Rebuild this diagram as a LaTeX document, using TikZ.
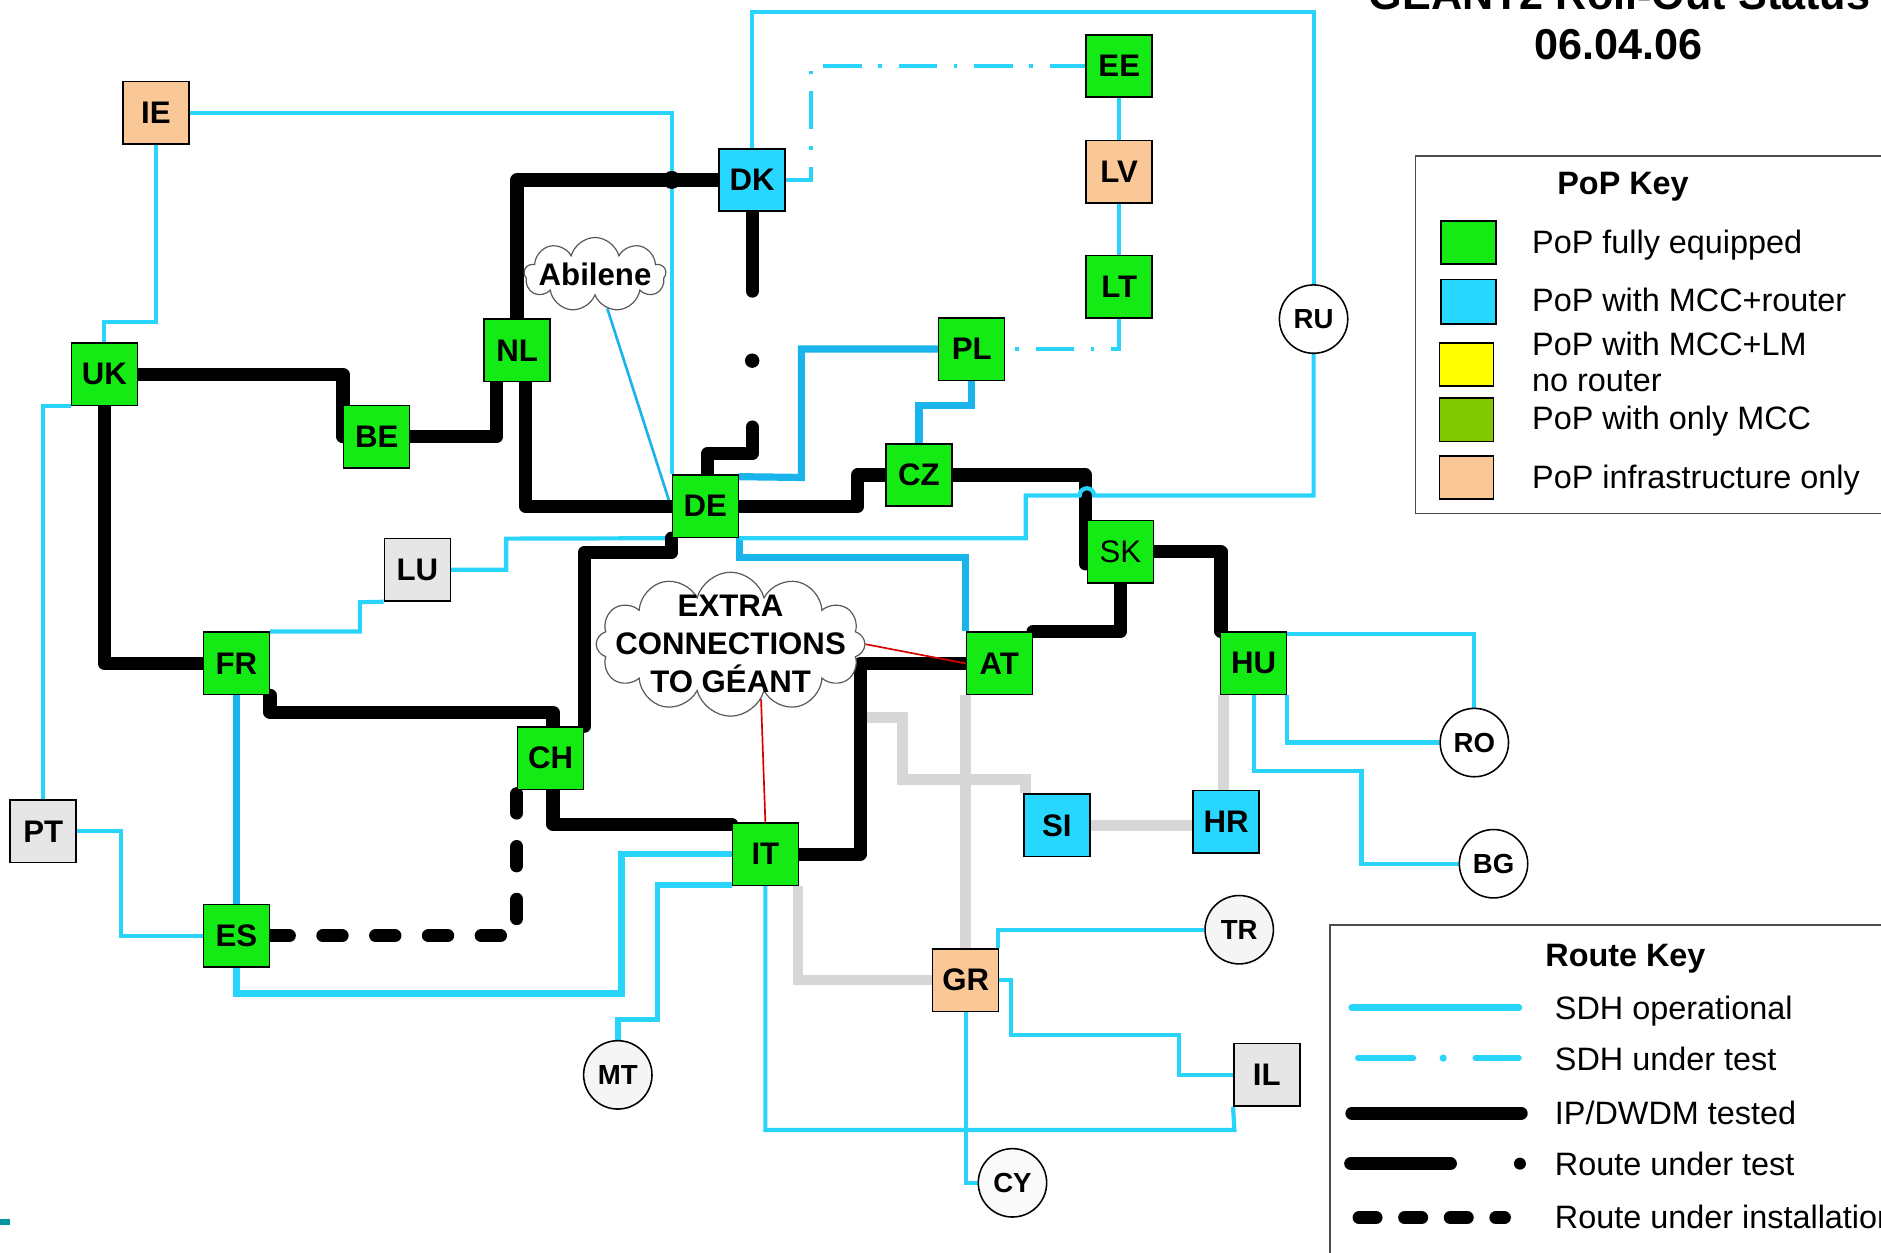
\documentclass[tikz,border=0pt]{standalone}
\usepackage{fontspec}
\setmainfont{Liberation Sans}
\usetikzlibrary{shapes.symbols,calc}
\pgfdeclarelayer{bg}
\pgfsetlayers{bg,main}
\definecolor{popG}{RGB}{20,235,20}
\definecolor{popC}{RGB}{40,215,255}
\definecolor{popP}{RGB}{250,200,150}
\definecolor{popW}{RGB}{230,230,230}
\definecolor{popY}{RGB}{255,255,0}
\definecolor{popO}{RGB}{130,200,0}
\definecolor{sdhA}{RGB}{40,212,250}
\definecolor{sdhB}{RGB}{25,180,235}
\definecolor{grayln}{RGB}{215,215,215}
\definecolor{tealmark}{RGB}{0,150,160}
\begin{document}
\begin{tikzpicture}[x=1pt,y=-1pt,
  pop/.style={draw=black,line width=1.3pt,minimum width=55pt,minimum height=52pt,inner sep=0pt,
    font=\fontsize{26}{30}\selectfont\bfseries,text=black},
  pg/.style={pop,fill=popG},
  pc/.style={pop,fill=popC},
  pp/.style={pop,fill=popP},
  pw/.style={pop,fill=popW},
  cnode/.style={circle,draw=black,line width=1.3pt,minimum size=57pt,inner sep=0pt,
    font=\fontsize{23}{26}\selectfont\bfseries},
  cloudbox/.style={cloud,draw=gray!70!black,fill=white,line width=1pt,cloud ignores aspect,inner sep=0pt},
  sdh/.style={draw=sdhA,line width=3.5pt},
  sdhthick/.style={draw=sdhA,line width=5.5pt},
  sdhdeep/.style={draw=sdhB,line width=6pt},
  sdhtest/.style={draw=sdhA,line width=3.5pt,dash pattern=on 32pt off 14pt on 3pt off 14pt},
  ipline/.style={draw=black,line width=11pt,line cap=round,line join=round},
  instline/.style={draw=black,line width=11pt,line cap=round,dash pattern=on 16pt off 28pt},
  grayroute/.style={draw=grayln,line width=9pt},
  redln/.style={draw=red!85!black,line width=1.4pt},
  legtext/.style={anchor=base west,font=\fontsize{27}{30}\selectfont,inner sep=0pt},
  legtitle/.style={anchor=base west,font=\fontsize{27}{30}\selectfont\bfseries,inner sep=0pt},
  swatch/.style={draw=black,line width=1.5pt}
]
\useasboundingbox (0,0) rectangle (1568,1044);

% ---- title ----
\node[anchor=base,font=\fontsize{36}{40}\selectfont\bfseries,inner sep=0pt] (title1) at (1350,8) {GÉANT2 Roll-Out Status};
\node[anchor=base,font=\fontsize{36}{40}\selectfont\bfseries,inner sep=0pt] (title2) at (1349,50) {06.04.06};

% ---- PoPs ----
\node[pp] (IE) at (130,94) {IE};
\node[pc] (DK) at (627,150) {DK};
\node[pg] (EE) at (933,55) {EE};
\node[pp] (LV) at (933,143) {LV};
\node[pg] (LT) at (933,239) {LT};
\node[pg] (PL) at (810,291) {PL};
\node[pg] (NL) at (431,292) {NL};
\node[pg] (UK) at (87,312) {UK};
\node[pg] (BE) at (314,364) {BE};
\node[pg] (CZ) at (766,396) {CZ};
\node[pg] (DE) at (588,422) {DE};
\node[pg,font=\fontsize{26}{30}\selectfont] (SK) at (934,460) {SK};
\node[pw] (LU) at (348,475) {LU};
\node[pg] (FR) at (197,553) {FR};
\node[pg] (AT) at (833,553) {AT};
\node[pg] (HU) at (1045,553) {HU};
\node[pg] (CH) at (459,632) {CH};
\node[pw] (PT) at (36,693) {PT};
\node[pc] (SI) at (881,688) {SI};
\node[pc] (HR) at (1022,685) {HR};
\node[pg] (IT) at (638,712) {IT};
\node[pg] (ES) at (197,780) {ES};
\node[pp] (GR) at (805,817) {GR};
\node[pw] (IL) at (1056,896) {IL};

\node[cnode,fill=white] (RU) at (1095,266) {RU};
\node[cnode,fill=white] (RO) at (1229,619) {RO};
\node[cnode,fill=white] (BG) at (1245,720) {BG};
\node[cnode,fill=gray!8] (TR) at (1033,775) {TR};
\node[cnode,fill=gray!8] (MT) at (515,896) {MT};
\node[cnode,fill=gray!4] (CY) at (844,986) {CY};

% ---- clouds ----
\node[cloudbox,cloud puffs=9,minimum width=118pt,minimum height=62pt] (Abilene) at (496,229) {};
\node[font=\fontsize{26}{30}\selectfont\bfseries,inner sep=0pt] (AbileneText) at (496,229) {Abilene};
\node[cloudbox,cloud puffs=12,minimum width=224pt,minimum height=120pt] (Extra) at (609,537) {};
\node[font=\fontsize{26}{31.5}\selectfont\bfseries,align=center,inner sep=0pt] (ExtraText) at (609,537) {EXTRA\\CONNECTIONS\\TO GÉANT};

\begin{pgfonlayer}{bg}
% ---- gray routes ----
\draw[grayroute] ([xshift=3pt]HU.south west) -- ([xshift=3pt]HU.south west |- HR.north);
\draw[grayroute] (SI.east) -- (SI.east -| HR.west);
\draw[grayroute] (GR.north) -- (GR.north |- AT.south);
\draw[grayroute] (AT.west) -| (717,598) -| (752,650) -| ([xshift=2pt]SI.north west);
\draw[grayroute] ([xshift=-1pt]IT.south east) |- (GR.west);

% ---- SDH operational ----
\draw[sdh] (IE.east) -| (DE.north west);
\draw[sdh] (IE.south) -- ++(0,148) -| (UK.north);
\draw[sdh] (UK.south west) -| (PT.north);
\draw[sdh] (PT.east) -- (101,693) |- (ES.west);
\draw[sdhdeep] (FR.south) -- (ES.north);
\draw[sdhthick] (ES.south) -- (197,828) -| (518,712) -- (IT.west);
\draw[sdh,line width=4.5pt] (MT.north) |- (548,850) |- ([yshift=1pt]IT.south west);
\draw[sdh] (FR.north east) -| (300,502) -- (LU.south west);
\draw[sdh] (LU.east) -| (422,449) -- (DE.south west);
\draw[draw=sdhB,line width=2.2pt] (Abilene.290) -- ([yshift=-2pt]DE.west);
\draw[sdh] (DK.north) -- (627,10) -| (RU.north);
\draw[sdh] (EE.south) -- (LV.north);
\draw[sdh] (LV.south) -- (LT.north);
\draw[sdhtest] (DK.east) -- (676,150) |- (EE.west);
\draw[sdhtest] (LT.south) |- (PL.east);
\draw[sdhdeep] (PL.west) -| (668,398) -- ([yshift=-2pt]DE.north east);
\draw[sdhdeep] (PL.south) -- (810,338) -| (CZ.north);
\draw[sdhdeep] (DE.south east) -- ++(0,16) -| (AT.north west);
\draw[sdh] (GR.south) |- (CY.west);
\draw[sdh] (IT.south) |- (1029,942) -- (IL.south west);
\draw[sdh] ([xshift=-1pt]GR.north east) |- (TR.west);
\draw[sdh] (GR.east) -- (843,817) |- (983,863) |- (IL.west);
\draw[sdh] ([yshift=-2pt]HU.north east) -| (RO.north);
\draw[sdh] (HU.south east) |- (RO.west);
\draw[sdh] (HU.south) -- (1045,643) -| (1135,720) -- (BG.west);

% ---- IP/DWDM tested ----
\draw[ipline] (UK.east) -| (BE.west);
\draw[ipline] (BE.east) -| ([xshift=-17pt]NL.south);
\draw[ipline] (NL.north) |- (DK.west);
\fill (560,150) circle[radius=7.5pt];
\draw[ipline] ([xshift=7pt]NL.south) |- (DE.west);
\draw[ipline] (DE.east) -| (715,396) -- (CZ.west);
\draw[ipline] (CZ.east) -| ([xshift=-1pt]SK.west) -- ++(0,10);
\draw[ipline] (SK.east) -| ([xshift=1pt]HU.north west);
\draw[ipline] (SK.south) |- (AT.north east);
\draw[ipline] (AT.west) -| (717,712) -- (IT.east);
\draw[ipline] (DE.south west) -- ++(0,12) -| (CH.north east);
\draw[ipline] (UK.south) |- (FR.west);
\draw[ipline] (FR.south east) -- ++(0,14) -| ([xshift=2pt]CH.north);
\draw[ipline] ([xshift=2pt]CH.south) |- ([yshift=25pt]IT.west);
% route under test DK-DE
\draw[ipline] (DK.south) -- ++(0,66);
\fill (DK.south) ++(0,124) circle[radius=6pt];
\coordinate (rut) at (627,356);
\draw[ipline] (rut) -- ++(0,22) -| ([xshift=2pt]DE.north);
% route under installation
\draw[instline] (ES.east) -| (CH.south west);

% ---- RU - DE (over black, with hop) ----
\draw[sdh] (RU.south) -- (1095,413) -- (912,413) arc[start angle=0,end angle=180,radius=6pt] -- (855,413) |- (DE.south east);

% ---- extra connections ----
\draw[redln] (Extra.east) -- (AT.west);
\draw[redln] (Extra.-61) -- (IT.north);
\end{pgfonlayer}

% ---- PoP key ----
\draw[draw=gray!60!black,line width=1.5pt] (1180,130) rectangle (1590,428);
\node[legtitle] (pk) at (1298,162) {PoP Key};
\draw[swatch,fill=popG] (1201,184) rectangle (1247,220);
\draw[swatch,fill=popC] (1201,233) rectangle (1247,270);
\draw[swatch,fill=popY] (1200,286) rectangle (1245,322);
\draw[swatch,fill=popO] (1200,332) rectangle (1245,368);
\draw[swatch,fill=popP] (1200,380) rectangle (1245,416);
\node[legtext] (pk1) at (1277,211) {PoP fully equipped};
\node[legtext] (pk2) at (1277,260) {PoP with MCC+router};
\node[legtext] (pk3) at (1277,296) {PoP with MCC+LM};
\node[legtext] (pk4) at (1277,326) {no router};
\node[legtext] (pk5) at (1277,358) {PoP with only MCC};
\node[legtext] (pk6) at (1277,407) {PoP infrastructure only};

% ---- Route key ----
\draw[draw=gray!60!black,line width=1.5pt] (1109,771) rectangle (1590,1060);
\node[legtitle] (rk) at (1288,806) {Route Key};
\draw[draw=sdhA,line width=6pt,line cap=round] (1127,840) -- (1266,840);
\draw[draw=sdhA,line width=5pt,line cap=round] (1132,882) -- (1178,882);
\fill[sdhA] (1203,882) circle[radius=3pt];
\draw[draw=sdhA,line width=5pt,line cap=round] (1230,882) -- (1266,882);
\draw[ipline] (1127,928) -- (1268,928);
\draw[ipline] (1126,970) -- (1209,970);
\fill (1267,970) circle[radius=5pt];
\draw[instline,dash pattern=on 14pt off 24pt] (1133,1015) -- (1254,1015);
\node[legtext] (rk1) at (1296,850) {SDH operational};
\node[legtext] (rk2) at (1296,892) {SDH under test};
\node[legtext] (rk3) at (1296,937) {IP/DWDM tested};
\node[legtext] (rk4) at (1296,980) {Route under test};
\node[legtext] (rk5) at (1296,1024) {Route under installation};

% ---- small mark ----
\fill[tealmark] (0,1016) rectangle (8,1021);
\end{tikzpicture}
\end{document}
